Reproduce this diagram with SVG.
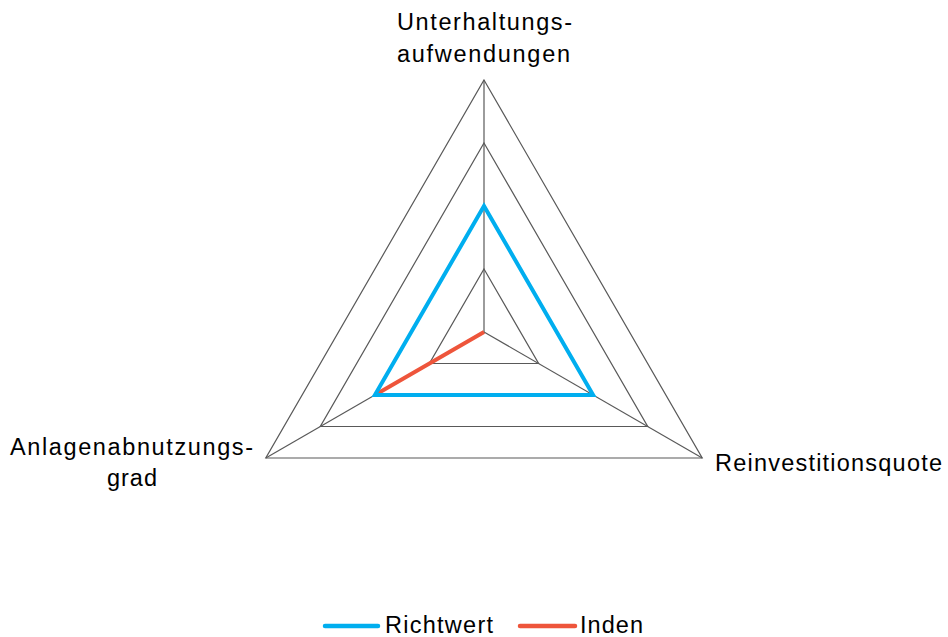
<svg xmlns="http://www.w3.org/2000/svg" width="948" height="637" viewBox="0 0 948 637">
<style>
.grid{fill:none;stroke:#595959;stroke-width:1.2}
.lbl{font-family:"Liberation Sans",Arial,sans-serif;font-size:23.5px;fill:#000}
.blue{fill:none;stroke:#00AEEF;stroke-width:4;stroke-linejoin:miter}
.red{fill:none;stroke:#EE553B;stroke-width:4}
</style>
<rect width="948" height="637" fill="#fff"/>
<g id="grid">
<polygon class="grid" points="484,269 538.6,363.5 429.4,363.5"/>
<polygon class="grid" points="484,206 593.1,395 374.9,395"/>
<polygon class="grid" points="484,143 647.7,426.5 320.3,426.5"/>
<polygon class="grid" points="484,80 702.2,458 265.8,458"/>
</g>
<g id="connectors">
<line class="grid" x1="484" y1="332" x2="484" y2="80"/>
<line class="grid" x1="484" y1="332" x2="702.2" y2="458"/>
<line class="grid" x1="484" y1="332" x2="265.8" y2="458"/>
</g>
<g id="series-inden">
<path class="red" d="M484,332 L374.9,395 Z"/>
</g>
<g id="series-richtwert">
<polygon class="blue" points="484,206 593.1,395 374.9,395"/>
</g>
<g id="axis-top">
<text class="lbl" x="484.5" y="30" text-anchor="middle" textLength="175" lengthAdjust="spacing">Unterhaltungs-</text>
<text class="lbl" x="483.5" y="62" text-anchor="middle" textLength="173" lengthAdjust="spacing">aufwendungen</text>
</g>
<g id="axis-left">
<text class="lbl" x="131.5" y="455" text-anchor="middle" textLength="243" lengthAdjust="spacing">Anlagenabnutzungs-</text>
<text class="lbl" x="132" y="486" text-anchor="middle" textLength="50" lengthAdjust="spacing">grad</text>
</g>
<g id="axis-right">
<text class="lbl" x="715" y="471" textLength="227" lengthAdjust="spacing">Reinvestitionsquote</text>
</g>
<g id="legend">
<line x1="325" y1="626" x2="378" y2="626" stroke="#00AEEF" stroke-width="4.5" stroke-linecap="round"/>
<text class="lbl" x="385" y="633" textLength="108" lengthAdjust="spacing">Richtwert</text>
<line x1="520" y1="626" x2="575" y2="626" stroke="#EE553B" stroke-width="4.5" stroke-linecap="round"/>
<text class="lbl" x="580" y="633" textLength="63" lengthAdjust="spacing">Inden</text>
</g>
</svg>
